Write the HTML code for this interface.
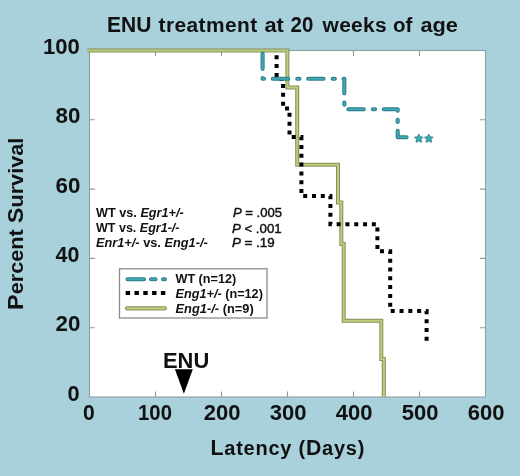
<!DOCTYPE html>
<html><head><meta charset="utf-8">
<style>
html,body{margin:0;padding:0;background:#a8d1db;}
body{width:520px;height:476px;overflow:hidden;}
svg{display:block;font-family:"Liberation Sans",sans-serif;will-change:transform;}
</style></head>
<body>
<svg width="520" height="476" viewBox="0 0 520 476">
<rect x="0" y="0" width="520" height="476" fill="#a8d1db"/>
<rect x="89.5" y="50.5" width="396.0" height="346.5" fill="#ffffff" stroke="#929fa4" stroke-width="1.1"/>
<path d="M155.5 397.0V391.5M155.5 50.5V56.0M221.5 397.0V391.5M221.5 50.5V56.0M287.5 397.0V391.5M287.5 50.5V56.0M353.5 397.0V391.5M353.5 50.5V56.0M419.5 397.0V391.5M419.5 50.5V56.0M89.5 327.7H95.0M485.5 327.7H480.0M89.5 258.4H95.0M485.5 258.4H480.0M89.5 189.1H95.0M485.5 189.1H480.0M89.5 119.8H95.0M485.5 119.8H480.0" stroke="#979797" stroke-width="1.1" fill="none"/>
<rect x="119.5" y="268.8" width="147.5" height="49.2" fill="#fff" stroke="#8c8c8c" stroke-width="1.3"/>
<text transform="translate(107.05,32.4) scale(0.9545,1)" font-size="22" font-weight="bold" fill="#111">ENU</text>
<text transform="translate(158.50,32.4) scale(1.0300,1)" font-size="20.3" letter-spacing="0.413" font-weight="bold" fill="#111">treatment</text>
<text transform="translate(264.45,32.4) scale(1.0721,1)" font-size="20.3" font-weight="bold" fill="#111">at</text>
<text transform="translate(290.56,32.4) scale(0.9312,1)" font-size="22" font-weight="bold" fill="#111">20</text>
<text transform="translate(322.50,32.4) scale(1.0350,1)" font-size="20.3" letter-spacing="0.290" font-weight="bold" fill="#111">weeks</text>
<text transform="translate(392.99,32.4) scale(1.0118,1)" font-size="20.3" font-weight="bold" fill="#111">of</text>
<text transform="translate(420.44,32.4) scale(1.0730,1)" font-size="20.3" font-weight="bold" fill="#111">age</text>
<text transform="translate(42.97,54.0) scale(1.0238,1)" font-size="21.6" font-weight="bold" fill="#111">100</text>
<text transform="translate(55.48,123.3) scale(1.0352,1)" font-size="21.6" font-weight="bold" fill="#111">80</text>
<text transform="translate(55.48,192.6) scale(1.0352,1)" font-size="21.6" font-weight="bold" fill="#111">60</text>
<text transform="translate(55.49,261.9) scale(0.9921,1)" font-size="21.6" font-weight="bold" fill="#111">40</text>
<text transform="translate(55.48,331.2) scale(1.0352,1)" font-size="21.6" font-weight="bold" fill="#111">20</text>
<text transform="translate(67.42,400.5) scale(1.0083,1)" font-size="21.6" font-weight="bold" fill="#111">0</text>
<text transform="translate(83.02,420.4) scale(0.9641,1)" font-size="21.9" font-weight="bold" fill="#111">0</text>
<text transform="translate(138.06,420.4) scale(0.9269,1)" font-size="21.9" font-weight="bold" fill="#111">100</text>
<text transform="translate(203.73,420.4) scale(1.0060,1)" font-size="21.9" font-weight="bold" fill="#111">200</text>
<text transform="translate(269.73,420.4) scale(1.0060,1)" font-size="21.9" font-weight="bold" fill="#111">300</text>
<text transform="translate(335.75,420.4) scale(1.0060,1)" font-size="21.9" font-weight="bold" fill="#111">400</text>
<text transform="translate(401.73,420.4) scale(1.0060,1)" font-size="21.9" font-weight="bold" fill="#111">500</text>
<text transform="translate(467.73,420.4) scale(1.0060,1)" font-size="21.9" font-weight="bold" fill="#111">600</text>
<text transform="translate(210.50,454.6) scale(1.0000,1)" font-size="20" letter-spacing="0.754" font-weight="bold" fill="#111"><tspan font-size="21.3">L</tspan>atency (<tspan font-size="21.3">D</tspan>ays)</text>
<text transform="translate(95.99,217.2) scale(1.0237,1)" font-size="12.4" font-weight="bold" fill="#111">WT vs. <tspan font-style="italic">Egr1+/-</tspan></text>
<text transform="translate(96.00,231.9) scale(1.0098,1)" font-size="12.4" font-weight="bold" fill="#111">WT vs. <tspan font-style="italic">Egr1-/-</tspan></text>
<text transform="translate(95.99,247.0) scale(1.0297,1)" font-size="12.4" font-weight="bold" fill="#111"><tspan font-style="italic">Enr1+/-</tspan> vs. <tspan font-style="italic">Eng1-/-</tspan></text>
<text transform="translate(232.95,217.4) scale(1.0914,1)" font-size="12" stroke="#111" stroke-width="0.4" fill="#111"><tspan font-style="italic">P</tspan> = .005</text>
<text transform="translate(231.92,232.5) scale(1.1050,1)" font-size="12" stroke="#111" stroke-width="0.4" fill="#111"><tspan font-style="italic">P</tspan> &lt; .001</text>
<text transform="translate(231.91,247.4) scale(1.1142,1)" font-size="12" stroke="#111" stroke-width="0.4" fill="#111"><tspan font-style="italic">P</tspan> = .19</text>
<text transform="translate(175.48,282.8) scale(0.9873,1)" font-size="12.8" font-weight="bold" fill="#111">WT (n=12)</text>
<text transform="translate(175.49,298.3) scale(0.9911,1)" font-size="12.8" font-weight="bold" fill="#111"><tspan font-style="italic">Eng1+/-</tspan> (n=12)</text>
<text transform="translate(175.48,313.3) scale(1.0055,1)" font-size="12.8" font-weight="bold" fill="#111"><tspan font-style="italic">Eng1-/-</tspan> (n=9)</text>
<text transform="translate(163.01,367.6) scale(0.9783,1)" font-size="22.4" font-weight="bold" fill="#111">ENU</text>
<text transform="translate(22.8,309.90) rotate(-90) scale(1.0859,1)" font-size="20" font-weight="bold" fill="#111"><tspan font-size="21.5">P</tspan>ercent <tspan font-size="21.5">S</tspan>urvival</text>
<g stroke-linecap="round" fill="none"><path d="M127.5 279.3H144M151 279.3H155.5M163 279.3H165" stroke="#2c7e8b" stroke-width="4.0"/><path d="M127.5 279.3H144M151 279.3H155.5M163 279.3H165" stroke="#40a7b4" stroke-width="2.0"/><path d="M127 308.3H164.8" stroke="#858f5e" stroke-width="4.2"/><path d="M127 308.3H164.8" stroke="#bccf78" stroke-width="2.2"/></g>
<path d="M125.7 292.9H165.5" stroke="#000" stroke-width="4" stroke-dasharray="4.4 4.4" fill="none"/>
<path d="M174.9 369.3H192.8L183.9 393.8Z" fill="#000"/>
<g fill="none"><path d="M87.5 50.5H287.4V87.6H297.2V164.8H338V202.4H341.3V244H343.7V320.8H381.3V359H383.8V397" stroke="#858f5e" stroke-width="4.0"/><path d="M87.5 50.5H287.4V87.6H297.2V164.8H338V202.4H341.3V244H343.7V320.8H381.3V359H383.8V397" stroke="#bccf78" stroke-width="2.0"/></g>
<path d="M276.6 50.5V79H283.1V108.5H289.5V137H301.4V196H330.4V224.2H377.4V251.3H390.2V311H426.6V341" fill="none" stroke="#000" stroke-width="4" stroke-dasharray="4 4.805" stroke-dashoffset="4.0"/>
<g fill="none" stroke-linecap="round" stroke-linejoin="round" stroke-dasharray="2.2 8.7 15.4 9.1" stroke-dashoffset="7.93"><path d="M262.6 50.5V78.7H344.3V109.3H397.7V137.3H407" stroke="#2c7e8b" stroke-width="4.1"/><path d="M262.6 50.5V78.7H344.3V109.3H397.7V137.3H407" stroke="#40a7b4" stroke-width="2.1"/></g>
<g fill="#40a7b4" stroke="#2c7e8b" stroke-width="0.8" stroke-linejoin="round"><polygon points="418.80,134.00 420.21,136.66 423.17,137.18 421.08,139.34 421.50,142.32 418.80,141.00 416.10,142.32 416.52,139.34 414.43,137.18 417.39,136.66"/><polygon points="428.80,134.00 430.21,136.66 433.17,137.18 431.08,139.34 431.50,142.32 428.80,141.00 426.10,142.32 426.52,139.34 424.43,137.18 427.39,136.66"/></g>
</svg>
</body></html>
